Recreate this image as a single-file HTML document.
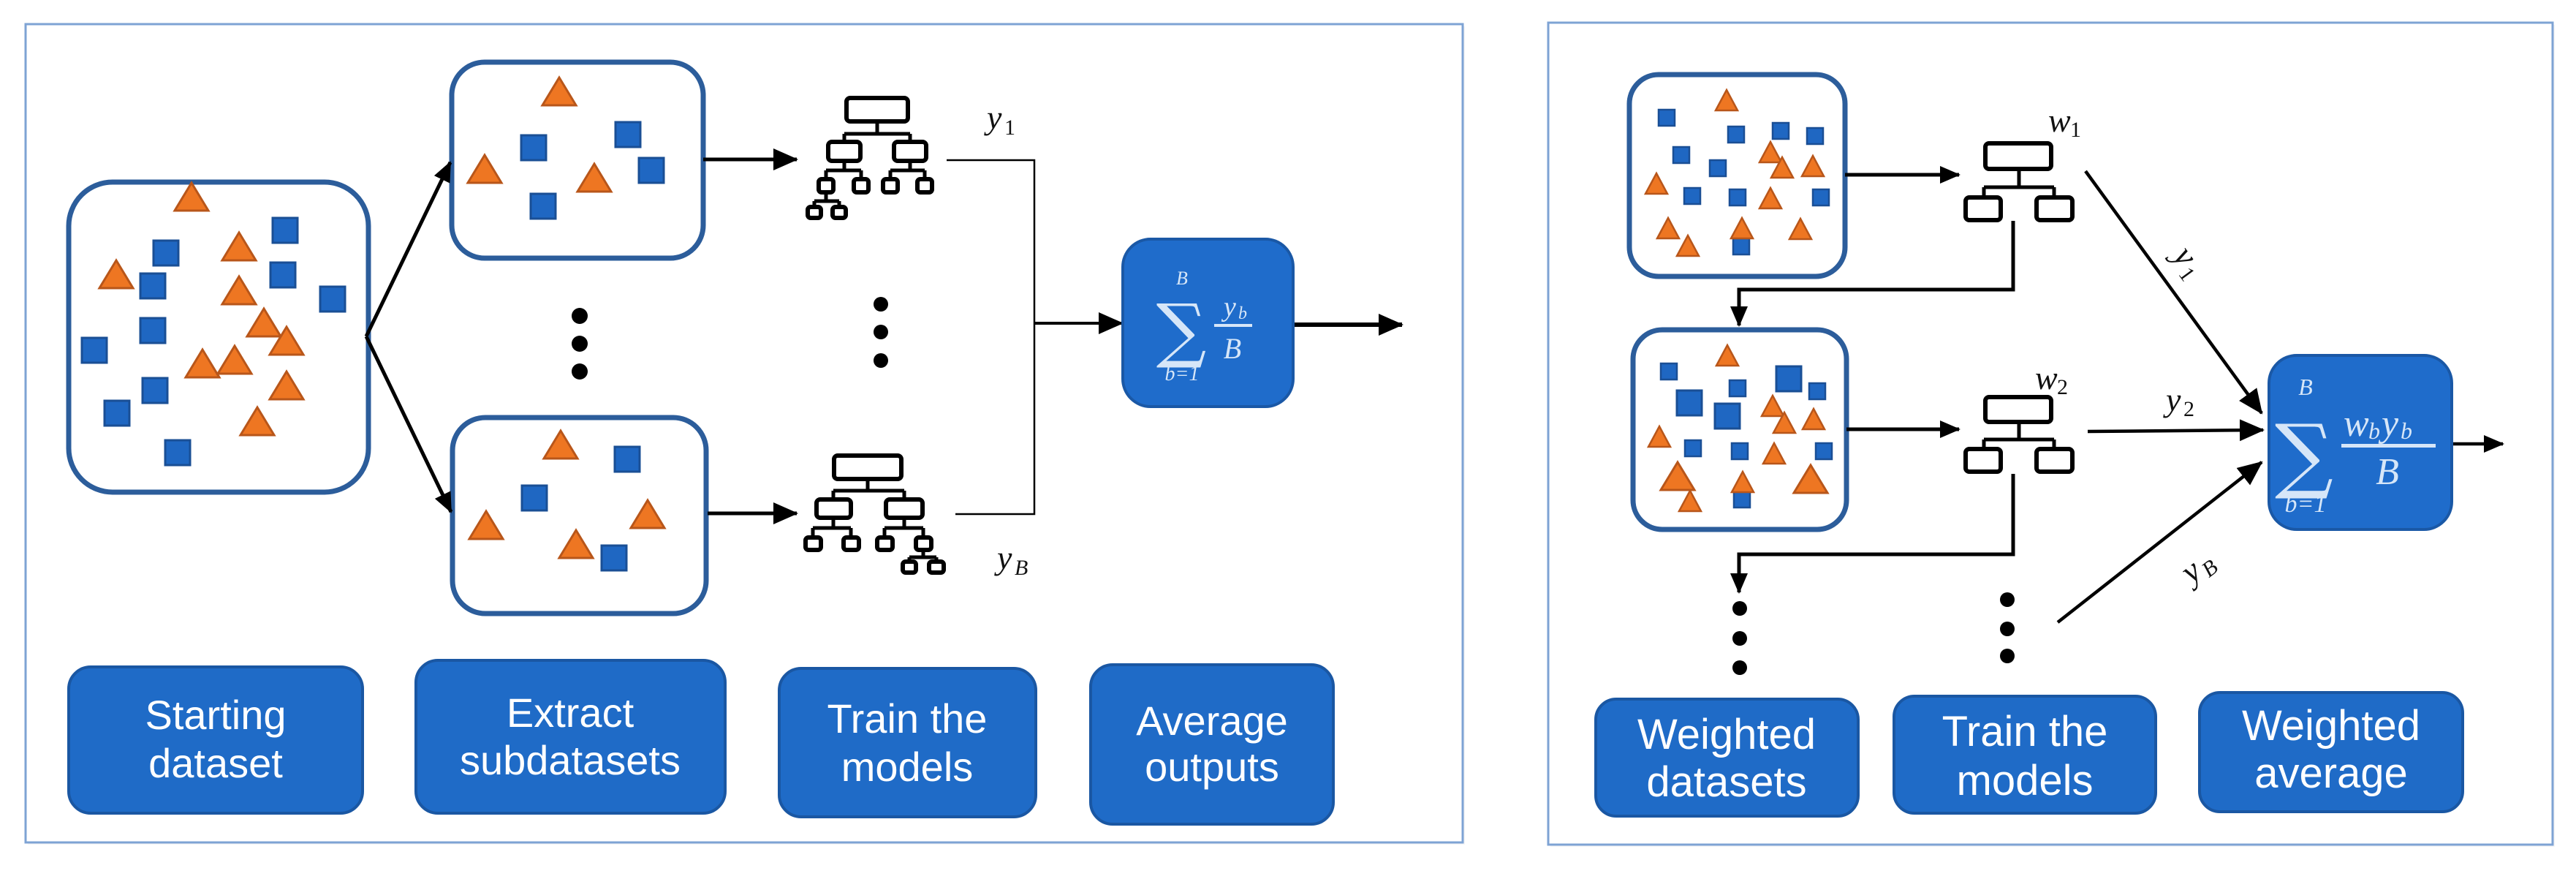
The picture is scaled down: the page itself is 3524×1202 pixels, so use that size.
<!DOCTYPE html>
<html><head><meta charset="utf-8"><style>
html,body{margin:0;padding:0;background:#fff;width:3524px;height:1202px;overflow:hidden}
svg{display:block}
.lbl{font-family:"Liberation Sans",Arial,sans-serif;fill:#fff;text-anchor:middle}
.m{font-family:"Liberation Serif",serif;font-style:italic;fill:#111}
.mw{font-family:"Liberation Serif",serif;font-style:italic;fill:#d6e6f8}
.n{font-style:normal}
</style></head><body>
<svg width="3524" height="1202" viewBox="0 0 3524 1202" xmlns="http://www.w3.org/2000/svg">
<defs>
<marker id="ah" markerUnits="userSpaceOnUse" markerWidth="34" markerHeight="34" viewBox="0 0 34 34" refX="32" refY="17" orient="auto"><path d="M0,2 L34,17 L0,32 Z" fill="#000"/></marker>
<marker id="ahs" markerUnits="userSpaceOnUse" markerWidth="28" markerHeight="28" viewBox="0 0 28 28" refX="26" refY="14" orient="auto"><path d="M0,2 L28,14 L0,26 Z" fill="#000"/></marker>
<g id="sq"><rect x="-17" y="-17" width="34" height="34" fill="#1f67c2" stroke="#1a4f95" stroke-width="3"/></g>
<g id="tr"><polygon points="0,-20 23,18 -23,18" fill="#ee7622" stroke="#b8561a" stroke-width="3"/></g>
<g id="sqs"><rect x="-11" y="-11" width="22" height="22" fill="#1f67c2" stroke="#1a4f95" stroke-width="2.5"/></g>
<g id="trs"><polygon points="0,-15 15,13 -15,13" fill="#ee7622" stroke="#b8561a" stroke-width="2.5"/></g>
</defs>

<rect x="38" y="36" width="1966" height="1119" fill="#f2f2f2" opacity="0.7"/>
<rect x="35" y="33" width="1966" height="1119" fill="#fff" stroke="#7ea3d4" stroke-width="3"/>
<rect x="2121" y="34" width="1374" height="1124" fill="#f2f2f2" opacity="0.7"/>
<rect x="2118" y="31" width="1374" height="1124" fill="#fff" stroke="#7ea3d4" stroke-width="3"/>

<rect x="94" y="249" width="410" height="424" rx="60" fill="#fff" stroke="#2c5d9b" stroke-width="7"/>
<g>
<use href="#tr" x="262" y="270"/><use href="#tr" x="327" y="338"/><use href="#tr" x="159" y="376"/>
<use href="#tr" x="327" y="398"/><use href="#tr" x="361" y="442"/><use href="#tr" x="392" y="467"/>
<use href="#tr" x="277" y="498"/><use href="#tr" x="321" y="493"/><use href="#tr" x="392" y="528"/>
<use href="#tr" x="352" y="577"/>
<use href="#sq" x="390" y="315"/><use href="#sq" x="227" y="346"/><use href="#sq" x="209" y="391"/>
<use href="#sq" x="387" y="376"/><use href="#sq" x="455" y="409"/><use href="#sq" x="209" y="452"/>
<use href="#sq" x="129" y="479"/><use href="#sq" x="212" y="534"/><use href="#sq" x="160" y="565"/>
<use href="#sq" x="243" y="619"/>
</g>
<rect x="618" y="85" width="344" height="268" rx="45" fill="#fff" stroke="#2c5d9b" stroke-width="7"/>
<use href="#tr" x="765" y="126"/><use href="#tr" x="663" y="232"/><use href="#tr" x="813" y="244"/>
<use href="#sq" x="730" y="202"/><use href="#sq" x="859" y="184"/><use href="#sq" x="891" y="233"/><use href="#sq" x="743" y="282"/>
<rect x="619" y="571" width="347" height="268" rx="45" fill="#fff" stroke="#2c5d9b" stroke-width="7"/>
<use href="#tr" x="767" y="609"/><use href="#tr" x="665" y="719"/><use href="#tr" x="886" y="704"/><use href="#tr" x="788" y="745"/>
<use href="#sq" x="858" y="628"/><use href="#sq" x="731" y="681"/><use href="#sq" x="840" y="763"/>

<g stroke="#000" stroke-width="5" fill="none">
<line x1="501" y1="460" x2="616" y2="222" marker-end="url(#ahs)"/>
<line x1="501" y1="460" x2="617" y2="700" marker-end="url(#ahs)"/>
<line x1="962" y1="218" x2="1090" y2="218" marker-end="url(#ah)"/>
<line x1="968" y1="702" x2="1090" y2="702" marker-end="url(#ah)"/>
</g>
<circle cx="793" cy="432" r="11"/><circle cx="793" cy="470" r="11"/><circle cx="793" cy="508" r="11"/>
<circle cx="1205" cy="416" r="10"/><circle cx="1205" cy="454" r="10"/><circle cx="1205" cy="493" r="10"/>

<g stroke="#000" stroke-width="6" fill="#fff">
<rect x="1158" y="134" width="84" height="32" rx="5"/>
<path d="M1200,166 V183 M1155,183 H1245 M1155,183 V194 M1245,183 V194" fill="none" stroke-width="5"/>
<rect x="1133" y="194" width="44" height="26" rx="5"/><rect x="1223" y="194" width="44" height="26" rx="5"/>
<path d="M1155,220 V233 M1130,233 H1178 M1130,233 V245 M1178,233 V245 M1245,220 V233 M1218,233 H1265 M1218,233 V245 M1265,233 V245" fill="none" stroke-width="5"/>
<rect x="1120" y="245" width="20" height="18" rx="4"/><rect x="1168" y="245" width="20" height="18" rx="4"/>
<rect x="1208" y="245" width="20" height="18" rx="4"/><rect x="1255" y="245" width="20" height="18" rx="4"/>
<path d="M1130,263 V275 M1114,275 H1148 M1114,275 V283 M1148,275 V283" fill="none" stroke-width="5"/>
<rect x="1105" y="283" width="18" height="15" rx="4"/><rect x="1139" y="283" width="18" height="15" rx="4"/>
</g>
<g stroke="#000" stroke-width="6" fill="#fff">
<rect x="1141" y="623" width="92" height="32" rx="5"/>
<path d="M1187,655 V671 M1140,671 H1237 M1140,671 V683 M1237,671 V683" fill="none" stroke-width="5"/>
<rect x="1117" y="683" width="47" height="25" rx="5"/><rect x="1212" y="683" width="50" height="25" rx="5"/>
<path d="M1140,708 V722 M1112,722 H1164 M1112,722 V735 M1164,722 V735 M1237,708 V722 M1210,722 H1263 M1210,722 V735 M1263,722 V735" fill="none" stroke-width="5"/>
<rect x="1102" y="735" width="21" height="17" rx="4"/><rect x="1154" y="735" width="21" height="17" rx="4"/>
<rect x="1200" y="735" width="21" height="17" rx="4"/><rect x="1253" y="735" width="21" height="17" rx="4"/>
<path d="M1263,752 V762 M1244,762 H1281 M1244,762 V768 M1281,762 V768" fill="none" stroke-width="5"/>
<rect x="1235" y="768" width="18" height="15" rx="4"/><rect x="1271" y="768" width="20" height="15" rx="4"/>
</g>
<g stroke="#000" fill="none">
<path d="M1295,219 H1415 V703 H1307" stroke-width="2.5"/>
<line x1="1415" y1="442" x2="1535" y2="442" stroke-width="4" marker-end="url(#ah)"/>
<line x1="1770" y1="444" x2="1918" y2="444" stroke-width="6" marker-end="url(#ah)"/>
</g>
<text class="m" x="1350" y="176" font-size="46">y</text><text class="m n" x="1374" y="184" font-size="30">1</text>
<text class="m" x="1364" y="778" font-size="46">y</text><text class="m" x="1388" y="786" font-size="30">B</text>

<rect x="1536" y="327" width="233" height="229" rx="38" fill="#1f6ccb" stroke="#1a58a6" stroke-width="4"/>
<text class="mw" x="1617" y="389" font-size="26" text-anchor="middle">B</text>
<text x="1616" y="484" font-size="96" fill="#d6e6f8" text-anchor="middle" font-family="DejaVu Serif,serif">∑</text>
<text class="mw" x="1617" y="520" font-size="28" text-anchor="middle">b=1</text>
<text class="mw" x="1674" y="432" font-size="38">y</text><text class="mw" x="1694" y="436" font-size="24">b</text>
<rect x="1661" y="443" width="52" height="4" fill="#d6e6f8"/>
<text class="mw" x="1686" y="490" font-size="40" text-anchor="middle">B</text>

<g fill="#1f6bc7" stroke="#1a57a3" stroke-width="4">
<rect x="94" y="912" width="402" height="200" rx="30"/>
<rect x="569" y="903" width="423" height="209" rx="30"/>
<rect x="1066" y="914" width="351" height="203" rx="30"/>
<rect x="1492" y="909" width="332" height="218" rx="30"/>
</g>
<text class="lbl" font-size="56"><tspan x="295" y="997">Starting</tspan><tspan x="295" y="1063">dataset</tspan></text>
<text class="lbl" font-size="56"><tspan x="780" y="994">Extract</tspan><tspan x="780" y="1059">subdatasets</tspan></text>
<text class="lbl" font-size="56"><tspan x="1241" y="1002">Train the</tspan><tspan x="1241" y="1068">models</tspan></text>
<text class="lbl" font-size="56"><tspan x="1658" y="1005">Average</tspan><tspan x="1658" y="1068">outputs</tspan></text>

<rect x="2229" y="102" width="295" height="276" rx="40" fill="#fff" stroke="#2c5d9b" stroke-width="7"/>
<use href="#sqs" x="2280" y="161"/><use href="#sqs" x="2375" y="184"/><use href="#sqs" x="2436" y="179"/><use href="#sqs" x="2483" y="186"/>
<use href="#sqs" x="2300" y="212"/><use href="#sqs" x="2350" y="230"/><use href="#sqs" x="2315" y="268"/><use href="#sqs" x="2377" y="270"/>
<use href="#sqs" x="2491" y="270"/><use href="#sqs" x="2382" y="337"/>
<use href="#trs" x="2362" y="138"/><use href="#trs" x="2422" y="209"/><use href="#trs" x="2438" y="230"/><use href="#trs" x="2480" y="228"/>
<use href="#trs" x="2266" y="252"/><use href="#trs" x="2422" y="272"/><use href="#trs" x="2282" y="313"/><use href="#trs" x="2383" y="313"/>
<use href="#trs" x="2463" y="314"/><use href="#trs" x="2309" y="337"/>

<rect x="2234" y="451" width="292" height="273" rx="40" fill="#fff" stroke="#2c5d9b" stroke-width="7"/>
<use href="#sqs" x="2283" y="508"/><use href="#sq" x="2311" y="551"/>
<use href="#sqs" x="2377" y="531"/><use href="#sq" x="2363" y="569"/><use href="#sq" x="2447" y="518"/>
<use href="#sqs" x="2486" y="535"/><use href="#sqs" x="2316" y="613"/><use href="#sqs" x="2380" y="617"/>
<use href="#sqs" x="2495" y="617"/><use href="#sqs" x="2383" y="683"/>
<use href="#trs" x="2363" y="487"/><use href="#trs" x="2425" y="556"/><use href="#trs" x="2441" y="579"/><use href="#trs" x="2481" y="574"/>
<use href="#trs" x="2270" y="598"/><use href="#trs" x="2427" y="621"/><use href="#tr" x="2295" y="652"/><use href="#trs" x="2384" y="660"/>
<use href="#tr" x="2477" y="656"/><use href="#trs" x="2312" y="686"/>

<g stroke="#000" stroke-width="5" fill="none">
<line x1="2524" y1="239" x2="2680" y2="239" marker-end="url(#ahs)"/>
<line x1="2526" y1="587" x2="2680" y2="587" marker-end="url(#ahs)"/>
<path d="M2754,302 V396 H2379 V445" marker-end="url(#ahs)"/>
<path d="M2754,648 V758 H2379 V810" marker-end="url(#ahs)"/>
<line x1="2853" y1="234" x2="3094" y2="565" stroke-width="4.5" marker-end="url(#ah)"/>
<line x1="2856" y1="590" x2="3096" y2="588" stroke-width="4.5" marker-end="url(#ah)"/>
<line x1="2815" y1="851" x2="3094" y2="632" stroke-width="4.5" marker-end="url(#ah)"/>
<line x1="3355" y1="607" x2="3424" y2="607" stroke-width="4.5" marker-end="url(#ahs)"/>
</g>
<g stroke="#000" stroke-width="6" fill="#fff">
<rect x="2716" y="196" width="90" height="35" rx="5"/>
<path d="M2762,231 V256 M2714,256 H2810 M2714,256 V268 M2810,256 V268" fill="none" stroke-width="5"/>
<rect x="2689" y="270" width="48" height="31" rx="5"/><rect x="2786" y="270" width="49" height="31" rx="5"/>
<rect x="2716" y="543" width="90" height="34" rx="5"/>
<path d="M2762,577 V601 M2714,601 H2810 M2714,601 V613 M2810,601 V613" fill="none" stroke-width="5"/>
<rect x="2689" y="614" width="48" height="31" rx="5"/><rect x="2786" y="614" width="49" height="31" rx="5"/>
</g>
<circle cx="2380" cy="832" r="10"/><circle cx="2380" cy="873" r="10"/><circle cx="2380" cy="913" r="10"/>
<circle cx="2746" cy="820" r="10"/><circle cx="2746" cy="860" r="10"/><circle cx="2746" cy="897" r="10"/>

<text class="m" x="2802" y="180" font-size="46">w</text><text class="m n" x="2832" y="187" font-size="30">1</text>
<text class="m" x="2784" y="532" font-size="46">w</text><text class="m n" x="2814" y="539" font-size="30">2</text>
<text class="m" x="2963" y="562" font-size="46">y</text><text class="m n" x="2987" y="569" font-size="30">2</text>
<g transform="translate(2988,356) rotate(54)"><text class="m" x="-14" y="10" font-size="46">y</text><text class="m n" x="10" y="18" font-size="30">1</text></g>
<g transform="translate(3006,780) rotate(-38)"><text class="m" x="-18" y="10" font-size="46">y</text><text class="m" x="6" y="18" font-size="30">B</text></g>

<rect x="3104" y="486" width="250" height="238" rx="38" fill="#1f6ccb" stroke="#1a58a6" stroke-width="4"/>
<text class="mw" x="3154" y="540" font-size="32" text-anchor="middle">B</text>
<text x="3152" y="660" font-size="112" fill="#d6e6f8" text-anchor="middle" font-family="DejaVu Serif,serif">∑</text>
<text class="mw" x="3154" y="700" font-size="34" text-anchor="middle">b=1</text>
<text class="mw" x="3206" y="596" font-size="52">w</text><text class="mw" x="3240" y="600" font-size="32">b</text>
<text class="mw" x="3258" y="596" font-size="52">y</text><text class="mw" x="3284" y="600" font-size="32">b</text>
<rect x="3203" y="607" width="129" height="5" fill="#d6e6f8"/>
<text class="mw" x="3266" y="662" font-size="52" text-anchor="middle">B</text>

<g fill="#1f6bc7" stroke="#1a57a3" stroke-width="4">
<rect x="2183" y="956" width="359" height="160" rx="28"/>
<rect x="2591" y="952" width="358" height="160" rx="28"/>
<rect x="3009" y="947" width="360" height="163" rx="28"/>
</g>
<text class="lbl" font-size="58"><tspan x="2362" y="1024">Weighted</tspan><tspan x="2362" y="1089">datasets</tspan></text>
<text class="lbl" font-size="58"><tspan x="2770" y="1020">Train the</tspan><tspan x="2770" y="1087">models</tspan></text>
<text class="lbl" font-size="58"><tspan x="3189" y="1012">Weighted</tspan><tspan x="3189" y="1077">average</tspan></text>
</svg>
</body></html>
